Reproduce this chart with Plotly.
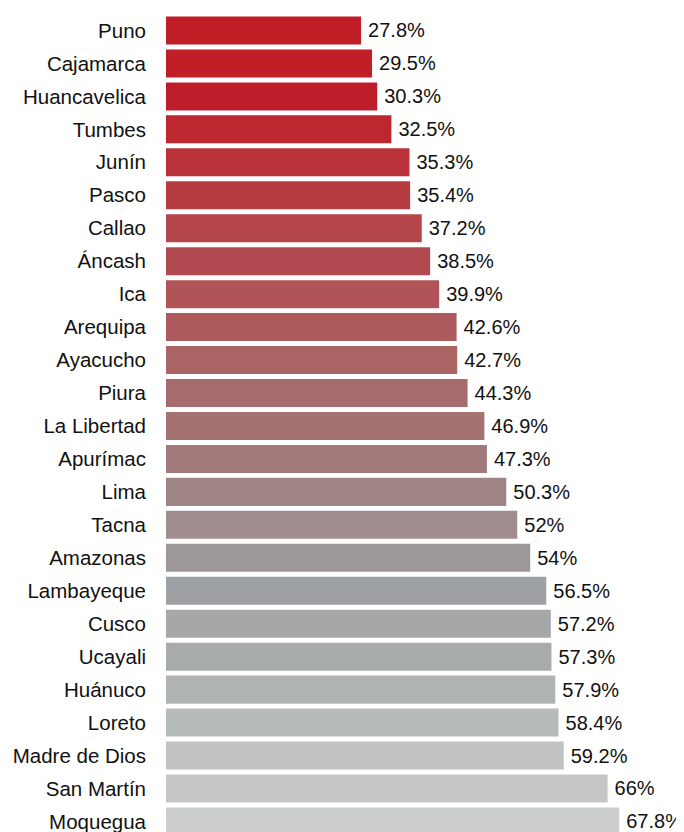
import plotly.graph_objects as go

regions = ["Puno", "Cajamarca", "Huancavelica", "Tumbes", "Junín", "Pasco", "Callao",
           "Áncash", "Ica", "Arequipa", "Ayacucho", "Piura", "La Libertad", "Apurímac",
           "Lima", "Tacna", "Amazonas", "Lambayeque", "Cusco", "Ucayali", "Huánuco",
           "Loreto", "Madre de Dios", "San Martín", "Moquegua"]
values = [27.8, 29.5, 30.3, 32.5, 35.3, 35.4, 37.2, 38.5, 39.9, 42.6, 42.7, 44.3, 46.9,
          47.3, 50.3, 52, 54, 56.5, 57.2, 57.3, 57.9, 58.4, 59.2, 66, 67.8]
colors = ["#C01F28", "#C01F28", "#BE1E2A", "#BC2730", "#B9323A", "#B63C42", "#B4464B",
          "#B04A50", "#B05457", "#AC5A5B", "#A96463", "#A66B6C", "#A57272", "#A37A7C",
          "#A08586", "#A08D8E", "#9E9798", "#9DA1A4", "#A4A8A9", "#A8ABAB", "#B0B3B4",
          "#B8BBBB", "#C1C2C2", "#C6C6C6", "#CCCECD"]
labels = [f"\u2009{v:g}%" for v in values]

XMIN = -2.43
XMAX = 76.6

fig = go.Figure(go.Bar(
    y=regions,
    x=[v - XMIN for v in values],
    base=XMIN,
    orientation="h",
    marker=dict(color=colors, line=dict(width=0)),
    text=labels,
    textposition="outside",
    textfont=dict(family="Liberation Sans, Arial, sans-serif", size=20, color="#111111"),
    cliponaxis=False,
    constraintext="none",
    hoverinfo="skip",
))

fig.update_layout(
    width=676, height=824,
    margin=dict(l=158, r=8, t=6, b=0, autoexpand=False),
    paper_bgcolor="white", plot_bgcolor="white",
    bargap=0.15,
    showlegend=False,
    font=dict(family="Liberation Sans, Arial, sans-serif", size=20, color="#111111"),
    xaxis=dict(range=[XMIN, XMAX], visible=False, fixedrange=True, automargin=False),
    yaxis=dict(type="category", range=[24.32, -0.5], showgrid=False, zeroline=False,
               showline=False, ticks="", ticklabelstandoff=19, automargin=False,
               tickfont=dict(size=20.5, color="#111111"), fixedrange=True),
)

fig.write_html("out.html", config={"displayModeBar": False})
